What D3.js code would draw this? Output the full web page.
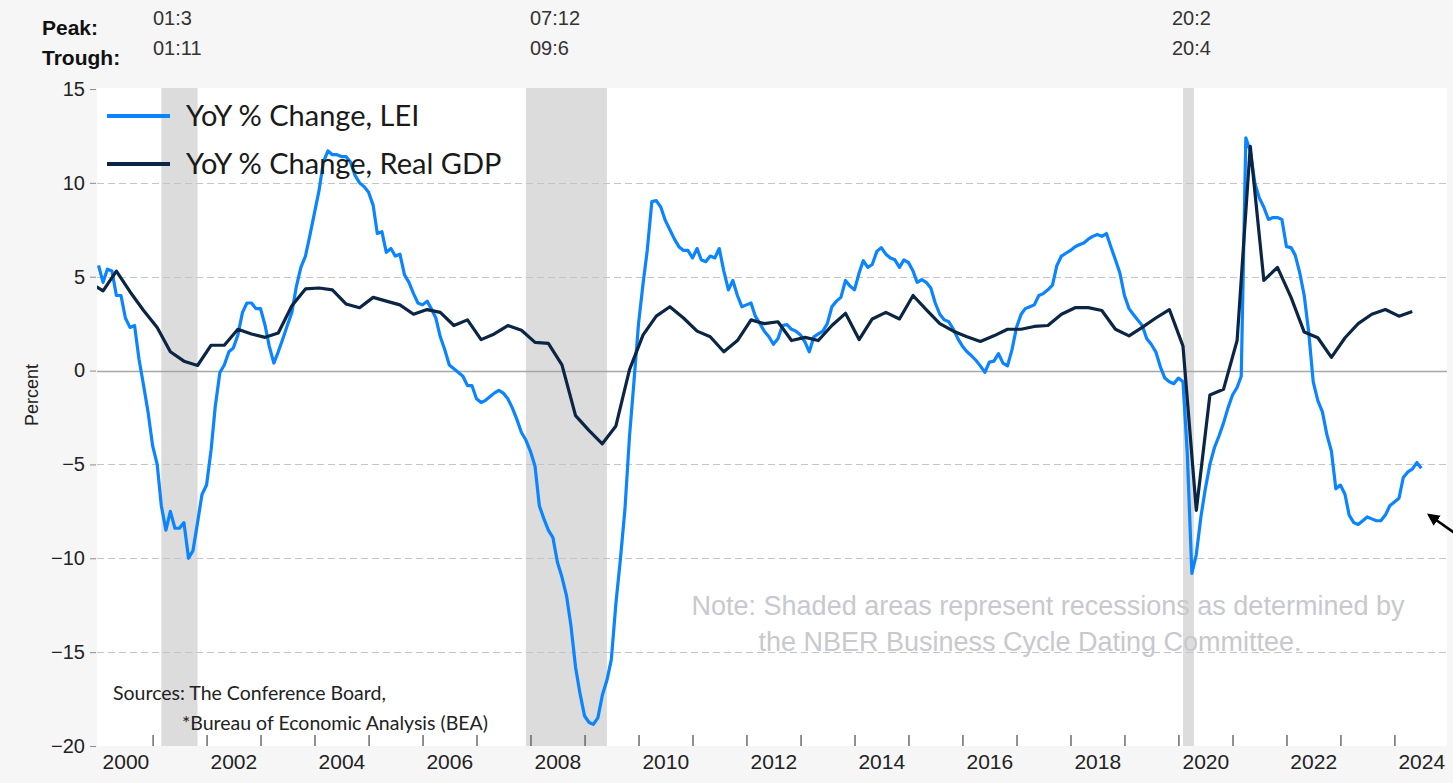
<!DOCTYPE html>
<html>
<head>
<meta charset="utf-8">
<script src="https://cdn.jsdelivr.net/npm/d3@7"></script>
<style>
  body { margin: 0; background: #f6f6f6; }
  svg { display: block; }
</style>
</head>
<body>
<svg id="chart"></svg>
<script>
// LEI, YoY % change, monthly from Jan 2000 to Jul 2024
var leiValues = [
  5.6, 4.7, 5.4, 5.3, 4.0, 4.0, 2.8, 2.3, 2.4, 0.6, -0.8, -2.2,
  -4.0, -5.0, -7.2, -8.5, -7.5, -8.4, -8.4, -8.1, -10.0, -9.6, -8.1, -6.6,
  -6.1, -4.2, -1.9, -0.1, 0.3, 1.0, 1.2, 1.9, 3.1, 3.6, 3.6, 3.3,
  3.3, 2.4, 1.3, 0.4, 1.0, 1.7, 2.4, 3.1, 4.5, 5.5, 6.1, 7.2,
  8.4, 9.6, 11.1, 11.7, 11.5, 11.5, 11.4, 11.4, 11.1, 10.4, 10.0, 9.8,
  9.5, 8.8, 7.3, 7.4, 6.3, 6.5, 6.1, 6.2, 5.1, 4.7, 4.1, 3.6,
  3.5, 3.7, 3.3, 2.8, 1.8, 1.1, 0.3, 0.1, -0.1, -0.3, -0.8, -0.8,
  -1.5, -1.7, -1.6, -1.4, -1.2, -1.05, -1.2, -1.5, -2.0, -2.6, -3.3, -3.7,
  -4.3, -5.1, -7.2, -7.9, -8.5, -8.9, -10.2, -11.0, -12.0, -13.6, -15.8, -17.2,
  -18.4, -18.75, -18.85, -18.5, -17.3, -16.5, -15.4, -12.4, -10.0, -7.4, -3.5, -0.6,
  2.5, 4.65, 6.4, 9.0, 9.05, 8.7, 8.0, 7.5, 7.0, 6.6, 6.4, 6.4,
  6.0, 6.5, 5.9, 5.8, 6.1, 6.0, 6.5, 5.3, 4.3, 4.8, 4.0, 3.4,
  3.5, 3.6, 2.9, 2.5, 2.1, 1.8, 1.4, 1.7, 2.4, 2.45, 2.2, 2.1,
  1.9, 1.5, 1.0, 1.8, 1.95, 2.1, 2.5, 3.4, 3.7, 3.9, 4.8, 4.5,
  4.3, 5.2, 5.85, 5.5, 5.65, 6.35, 6.55, 6.2, 6.0, 5.9, 5.5, 5.9,
  5.75, 5.3, 4.7, 4.85, 4.7, 4.4, 3.6, 3.0, 2.7, 2.6, 2.2, 1.7,
  1.3, 1.0, 0.8, 0.55, 0.25, -0.1, 0.45, 0.5, 0.9, 0.4, 0.25, 1.1,
  2.3, 3.0, 3.3, 3.4, 3.5, 4.0, 4.1, 4.3, 4.55, 5.6, 6.1, 6.25,
  6.4, 6.6, 6.7, 6.8, 7.0, 7.15, 7.25, 7.15, 7.3, 6.6, 5.9, 5.2,
  4.0, 3.3, 3.0, 2.7, 2.4, 1.7, 1.4, 1.0, 0.2, -0.4, -0.6, -0.7,
  -0.4, -0.6, -4.4, -10.8, -9.8, -7.8, -6.3, -5.0, -4.1, -3.5, -2.8, -2.0,
  -1.3, -0.9, -0.3, 12.4, 11.7, 10.0, 9.2, 8.7, 8.05, 8.15, 8.15, 8.05,
  6.6, 6.55, 6.15, 5.2, 4.0, 2.0, -0.6, -1.6, -2.2, -3.4, -4.3, -6.3,
  -6.1, -6.6, -7.7, -8.1, -8.2, -8.0, -7.8, -7.9, -8.0, -8.0, -7.7, -7.2,
  -7.0, -6.8, -5.7, -5.4, -5.25, -4.9, -5.2
];

// Real GDP, YoY % change, quarterly from 1999 Q4 to 2024 Q2 (plotted mid-quarter)
var gdpValues = [
  4.7,
  4.25, 5.3, 4.2, 3.2,
  2.3, 1.0, 0.5, 0.27,
  1.35, 1.35, 2.2, 1.95,
  1.77, 2.0, 3.45, 4.35,
  4.4, 4.3, 3.55, 3.35,
  3.9, 3.7, 3.5, 3.0,
  3.25, 3.1, 2.4, 2.7,
  1.65, 1.95, 2.4, 2.15,
  1.5, 1.45, 0.3, -2.4,
  -3.2, -3.9, -2.95, 0.05,
  1.9, 2.9, 3.4, 2.8,
  2.1, 1.8, 1.0, 1.6,
  2.7, 2.5, 2.6, 1.6,
  1.77, 1.6, 2.4, 3.05,
  1.65, 2.75, 3.1, 2.75,
  4.0, 3.25, 2.5, 2.1,
  1.8, 1.55, 1.85, 2.2,
  2.2, 2.35, 2.4, 3.0,
  3.35, 3.35, 3.2, 2.2,
  1.85, 2.3, 2.8, 3.25,
  1.3, -7.45, -1.3, -1.0,
  1.6, 11.95, 4.8, 5.5,
  3.9, 2.05, 1.75, 0.7,
  1.75, 2.5, 3.0, 3.25,
  2.9, 3.15
];

// NBER recessions: peak / trough month
var recessions = [
  { peak: new Date(2001, 2, 1), trough: new Date(2001, 10, 1), peakLabel: '01:3', troughLabel: '01:11' },
  { peak: new Date(2007, 11, 1), trough: new Date(2009, 5, 1), peakLabel: '07:12', troughLabel: '09:6' },
  { peak: new Date(2020, 1, 1), trough: new Date(2020, 3, 15), peakLabel: '20:2', troughLabel: '20:4' }
];

var yTicks = [15, 10, 5, 0, -5, -10, -15, -20];
var yearLabels = [2000, 2002, 2004, 2006, 2008, 2010, 2012, 2014, 2016, 2018, 2020, 2022, 2024];
var seriesNames = ['YoY % Change, LEI', 'YoY % Change, Real GDP'];
var seriesColors = ['#0a84ff', '#0b2545'];

var leiData = leiValues.map((v, i) => ({ date: new Date(2000, i, 1), value: v }));
var gdpData = gdpValues.map((v, i) => ({ date: new Date(1999, 10 + 3 * i, 1), value: v }));

const width = 1453, height = 783;
const plot = { left: 97, right: 1447, top: 89, bottom: 746 };
const axisFont = '"Liberation Sans", Arial, sans-serif';
const bodyFont = 'Lato, "Open Sans", sans-serif';

var svg = d3.select('#chart').attr('width', width).attr('height', height);

//background
svg.append('rect').attr('width', width).attr('height', height).style('fill', '#f6f6f6');
svg.append('rect')
  .attr('x', plot.left).attr('y', plot.top - 1)
  .attr('width', plot.right - plot.left).attr('height', plot.bottom - plot.top + 1)
  .style('fill', '#ffffff');

//scales
const x_scale = d3.scaleTime().domain([new Date(2000, 0, 1), new Date(2025, 0, 1)]).range([98.5, 1448.5]);
const y_scale = d3.scaleLinear().domain([-20, 15]).range([plot.bottom, plot.top]);

svg.append('clipPath').attr('id', 'plotclip').append('rect')
  .attr('x', plot.left).attr('y', plot.top - 5)
  .attr('width', plot.right - plot.left).attr('height', plot.bottom - plot.top + 10);

//recession shading
svg.append('g').selectAll('rect').data(recessions).join('rect')
  .attr('x', d => x_scale(d.peak))
  .attr('y', plot.top - 1)
  .attr('width', d => Math.max(x_scale(d.trough) - x_scale(d.peak), 9))
  .attr('height', plot.bottom - plot.top + 1)
  .style('fill', '#dcdcdc');

//gridlines
svg.append('g').selectAll('line').data(yTicks.filter(t => t != 15 && t != -20)).join('line')
  .attr('x1', plot.left).attr('x2', plot.right)
  .attr('y1', d => Math.round(y_scale(d)) + 0.5).attr('y2', d => Math.round(y_scale(d)) + 0.5)
  .attr('stroke', d => d == 0 ? '#a6a6a6' : '#c4c4c4')
  .attr('stroke-width', d => d == 0 ? 1.5 : 1)
  .attr('stroke-dasharray', d => d == 0 ? null : '7,4');

//y axis
var yAxis = svg.append('g').attr('transform', `translate(${plot.left - 1},0)`)
  .call(d3.axisLeft(y_scale).tickValues(yTicks).tickSize(6).tickPadding(5).tickFormat(d3.format('d')));
yAxis.select('.domain').remove();
yAxis.selectAll('line').attr('stroke', '#8c8c8c');
yAxis.selectAll('text').style('font-family', axisFont).style('font-size', '20px').style('fill', '#222');

svg.append('text').text('Percent')
  .attr('transform', `translate(38,${y_scale(-1.3)}) rotate(-90)`)
  .attr('text-anchor', 'middle')
  .style('font-family', axisFont).style('font-size', '18px').style('fill', '#222');

//x axis: year boundary ticks inside the plot, labels centred on the year
var xTicks = d3.range(2001, 2025).map(y => new Date(y, 0, 1));
var xAxis = svg.append('g').attr('transform', `translate(0,${plot.bottom})`)
  .call(d3.axisBottom(x_scale).tickValues(xTicks).tickSizeInner(-11).tickSizeOuter(0).tickFormat(''));
xAxis.select('.domain').remove();
xAxis.selectAll('line').attr('stroke', '#555').attr('stroke-width', 1.3);

var xLabels = svg.append('g').attr('transform', `translate(0,${plot.bottom + 5})`)
  .call(d3.axisBottom(x_scale).tickValues(yearLabels.map(y => new Date(y, 6, 1))).tickSize(0).tickPadding(3).tickFormat(d3.timeFormat('%Y')));
xLabels.select('.domain').remove();
xLabels.selectAll('text').style('font-family', axisFont).style('font-size', '21px').style('fill', '#222');

//peak / trough header
svg.append('text').text('Peak:').attr('x', 42).attr('y', 35)
  .style('font-family', axisFont).style('font-size', '21px').style('font-weight', 'bold').style('fill', '#111');
svg.append('text').text('Trough:').attr('x', 42).attr('y', 65)
  .style('font-family', axisFont).style('font-size', '21px').style('font-weight', 'bold').style('fill', '#111');
var hdrX = [153, 530, 1172];
var hdr = svg.append('g').selectAll('g').data(recessions).join('g');
hdr.append('text').text(d => d.peakLabel).attr('x', (d, i) => hdrX[i]).attr('y', 25);
hdr.append('text').text(d => d.troughLabel).attr('x', (d, i) => hdrX[i]).attr('y', 55);
hdr.selectAll('text').style('font-family', axisFont).style('font-size', '20px').style('fill', '#333');

//note
var note = svg.append('text').attr('text-anchor', 'middle')
  .style('font-family', axisFont).style('font-size', '27px').style('fill', '#c8c8ce');
note.append('tspan').attr('x', 1048).attr('y', 615).text('Note: Shaded areas represent recessions as determined by');
note.append('tspan').attr('x', 1030).attr('y', 651).text('the NBER Business Cycle Dating Committee.');

//sources
svg.append('text').text('Sources: The Conference Board,').attr('x', 113).attr('y', 700)
  .style('font-family', bodyFont).style('font-size', '19.5px').style('fill', '#222');
svg.append('text').text('*Bureau of Economic Analysis (BEA)').attr('x', 182).attr('y', 730)
  .style('font-family', bodyFont).style('font-size', '19.5px').style('fill', '#222');

//lines
var lineGenerator = d3.line()
  .x(d => x_scale(d.date))
  .y(d => y_scale(d.value));

var lines = svg.append('g').attr('clip-path', 'url(#plotclip)');
lines.append('path').datum(leiData)
  .attr('d', lineGenerator)
  .attr('fill', 'none')
  .attr('stroke', seriesColors[0])
  .attr('stroke-width', 3.2)
  .attr('stroke-linejoin', 'round');
lines.append('path').datum(gdpData)
  .attr('d', lineGenerator)
  .attr('fill', 'none')
  .attr('stroke', seriesColors[1])
  .attr('stroke-width', 3.2)
  .attr('stroke-linejoin', 'round');

//legend
var legend = svg.append('g').selectAll('g').data(seriesNames).join('g')
  .attr('transform', (d, i) => `translate(107,${116 + i * 48})`);
legend.append('line').attr('x1', 0).attr('x2', 63).attr('y1', 0).attr('y2', 0)
  .attr('stroke', (d, i) => seriesColors[i]).attr('stroke-width', 4);
legend.append('text').text(d => d).attr('x', 79).attr('y', 10)
  .style('font-family', bodyFont).style('font-size', '29px').style('fill', '#1a1a1a');

//arrow at the right edge
svg.append('defs').append('marker').attr('id', 'arrowhead')
  .attr('viewBox', '0 0 10 10').attr('refX', 8).attr('refY', 5)
  .attr('markerWidth', 5).attr('markerHeight', 5).attr('orient', 'auto')
  .append('path').attr('d', 'M0,0L10,5L0,10z').attr('fill', '#000');
svg.append('line').attr('x1', 1456).attr('y1', 534).attr('x2', 1429).attr('y2', 515)
  .attr('stroke', '#000').attr('stroke-width', 2.5).attr('marker-end', 'url(#arrowhead)');
</script>
</body>
</html>
